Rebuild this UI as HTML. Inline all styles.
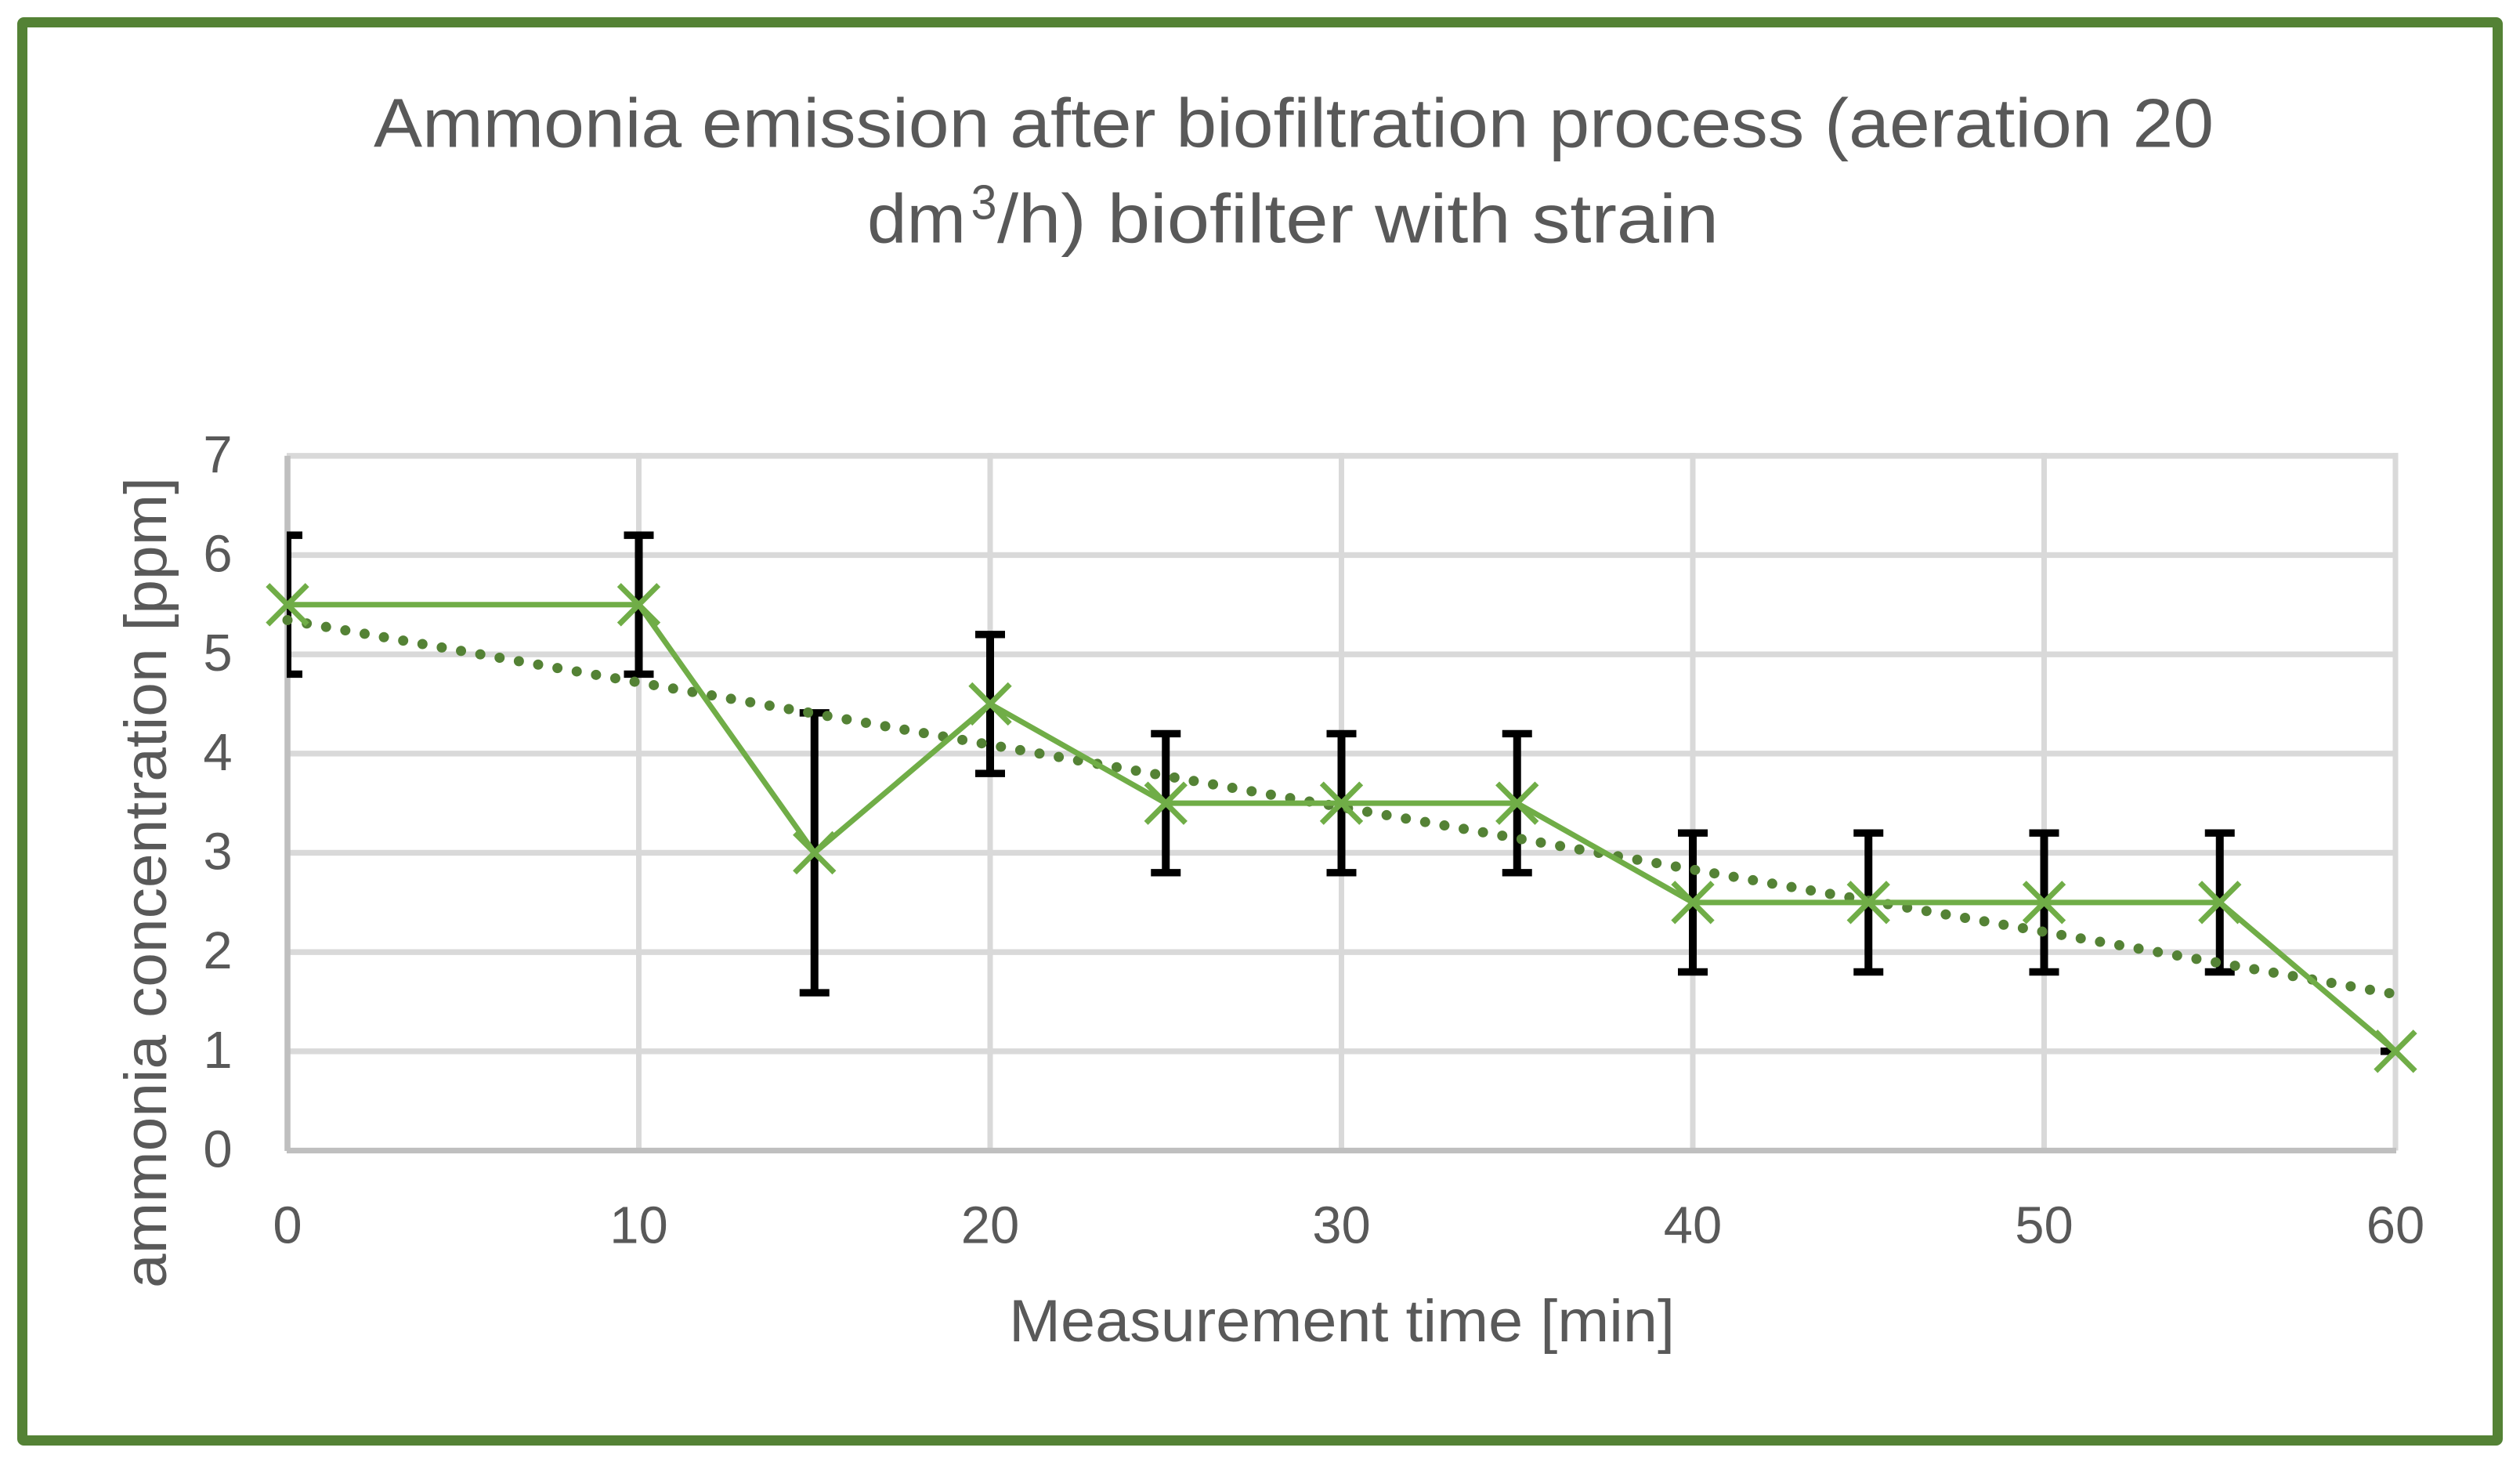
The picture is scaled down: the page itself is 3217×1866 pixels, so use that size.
<!DOCTYPE html>
<html lang="en">
<head>
<meta charset="utf-8">
<title>Ammonia emission chart</title>
<style>
  html, body { margin: 0; padding: 0; background: #fff; }
  svg { display: block; }
  text { font-family: "Liberation Sans", sans-serif; fill: #595959; }
</style>
</head>
<body>
<svg id="chart" xmlns="http://www.w3.org/2000/svg" width="3217" height="1866" viewBox="0 0 3217 1866">
  <rect x="0" y="0" width="3217" height="1866" fill="#ffffff"/>
  <rect x="28.5" y="28.5" width="3160" height="1810" rx="2" fill="#ffffff" stroke="#548235" stroke-width="13"/>
  <defs>
    <clipPath id="plot-clip"><rect x="366" y="560" width="2695" height="930"/></clipPath>
  </defs>
  <g id="grid"></g>
  <g id="axes"></g>
  <g id="errors" clip-path="url(#plot-clip)"></g>
  <g id="trend"></g>
  <g id="series"></g>
  <g id="ticks"></g>
  <text x="477" y="187.5" font-size="88" textLength="2349" lengthAdjust="spacingAndGlyphs">Ammonia emission after biofiltration process (aeration 20</text>
  <text x="1107" y="309.5" font-size="88" textLength="126" lengthAdjust="spacingAndGlyphs">dm</text>
  <text x="1239.5" y="279.5" font-size="62" textLength="33" lengthAdjust="spacingAndGlyphs">3</text>
  <text x="1273" y="309.5" font-size="88" textLength="921" lengthAdjust="spacingAndGlyphs">/h) biofilter with strain</text>
  <text x="1288" y="1712" font-size="76" textLength="850" lengthAdjust="spacingAndGlyphs">Measurement time [min]</text>
  <text transform="translate(212 1644) rotate(-90)" x="0" y="0" font-size="76" textLength="1035" lengthAdjust="spacingAndGlyphs">ammonia concentration [ppm]</text>
</svg>
<script>
const times = [0, 10, 15, 20, 25, 30, 35, 40, 45, 50, 55, 60];
const concentration = [5.5, 5.5, 3, 4.5, 3.5, 3.5, 3.5, 2.5, 2.5, 2.5, 2.5, 1];
const errorPlus = [0.7, 0.7, 1.41, 0.7, 0.7, 0.7, 0.7, 0.7, 0.7, 0.7, 0.7, 0];
const errorMinus = [0.7, 0.7, 1.41, 0.7, 0.7, 0.7, 0.7, 0.7, 0.7, 0.7, 0.7, 0];
const trendTimes = [0, 60];
const trendValues = [5.345, 1.575];
const xTickLabels = [0, 10, 20, 30, 40, 50, 60];
const yTickLabels = [0, 1, 2, 3, 4, 5, 6, 7];

const NS = 'http://www.w3.org/2000/svg';
function xScale(t) { return 367 + (t - 0) * (3058 - 367) / 60; }
function yScale(v) { return 1468.5 - v * (1468.5 - 581.8) / 7; }

function line(parent, x1, y1, x2, y2, color, width) {
  const el = document.createElementNS(NS, 'line');
  el.setAttribute('x1', x1);
  el.setAttribute('y1', y1);
  el.setAttribute('x2', x2);
  el.setAttribute('y2', y2);
  el.setAttribute('stroke', color);
  el.setAttribute('stroke-width', width);
  parent.appendChild(el);
  return el;
}

const gridG = document.getElementById('grid');
yTickLabels.forEach(function (v) {
  if (v === 0) return;
  const el = line(gridG, 366, yScale(v), 3061.5, yScale(v), '#D9D9D9', 7.4);
  
  
});
xTickLabels.forEach(function (t) {
  if (t === 0) return;
  const el = line(gridG, xScale(t), yScale(7) - 3.7, xScale(t), yScale(0), '#D9D9D9', 7);
  
  
});

const axesG = document.getElementById('axes');
const yAxisLine = line(axesG, xScale(0), yScale(7), xScale(0), yScale(0) + 0.5, '#BFBFBF', 7.6);


const xAxisLine = line(axesG, 366, yScale(0), xScale(60) + 1, yScale(0), '#BFBFBF', 7.2);



const errorsG = document.getElementById('errors');
times.forEach(function (t, i) {
  const x = xScale(t);
  const top = yScale(concentration[i] + errorPlus[i]);
  const bottom = yScale(concentration[i] - errorMinus[i]);
  const stem = line(errorsG, x, top, x, bottom, '#000000', 10);
  
  
  const capTop = line(errorsG, x - 19, top, x + 19, top, '#000000', 9.4);
  
  
  const capBottom = line(errorsG, x - 19, bottom, x + 19, bottom, '#000000', 9.4);
  
  
});

const trendG = document.getElementById('trend');
const trendLine = line(trendG, xScale(trendTimes[0]), yScale(trendValues[0]), xScale(trendTimes[1]), yScale(trendValues[1]), '#548235', 13);
trendLine.setAttribute('stroke-dasharray', '0 25');
trendLine.setAttribute('stroke-linecap', 'round');



const seriesG = document.getElementById('series');
const seriesPath = document.createElementNS(NS, 'polyline');
seriesPath.setAttribute('points', times.map(function (t, i) { return xScale(t) + ',' + yScale(concentration[i]); }).join(' '));
seriesPath.setAttribute('fill', 'none');
seriesPath.setAttribute('stroke', '#70AD47');
seriesPath.setAttribute('stroke-width', '7');
seriesPath.setAttribute('stroke-linejoin', 'round');


seriesG.appendChild(seriesPath);

const ARM = 25.2;
times.forEach(function (t, i) {
  const x = xScale(t);
  const y = yScale(concentration[i]);
  const marker = document.createElementNS(NS, 'path');
  marker.setAttribute('d', 'M' + (x - ARM) + ' ' + (y - ARM) + 'L' + (x + ARM) + ' ' + (y + ARM) + 'M' + (x - ARM) + ' ' + (y + ARM) + 'L' + (x + ARM) + ' ' + (y - ARM));
  marker.setAttribute('fill', 'none');
  marker.setAttribute('stroke', '#70AD47');
  marker.setAttribute('stroke-width', '7');
  
  
  seriesG.appendChild(marker);
});

const ticksG = document.getElementById('ticks');
xTickLabels.forEach(function (t) {
  const label = document.createElementNS(NS, 'text');
  label.setAttribute('x', xScale(t));
  label.setAttribute('y', 1586.5);
  label.setAttribute('font-size', '67');
  label.setAttribute('text-anchor', 'middle');
  label.textContent = t;
  
  
  ticksG.appendChild(label);
});
yTickLabels.forEach(function (v) {
  const label = document.createElementNS(NS, 'text');
  label.setAttribute('x', 278);
  label.setAttribute('y', yScale(v) + 21);
  label.setAttribute('font-size', '67');
  label.setAttribute('text-anchor', 'middle');
  label.textContent = v;
  
  
  ticksG.appendChild(label);
});
</script>
</body>
</html>
